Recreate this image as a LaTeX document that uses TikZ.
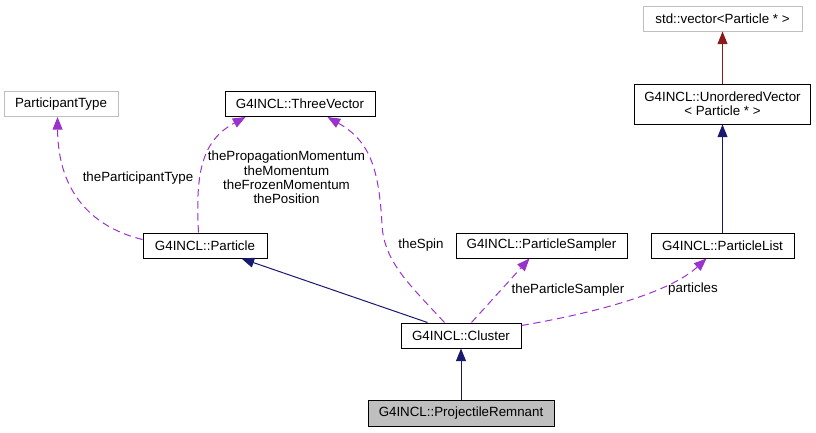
\documentclass[tikz,border=0pt]{standalone}
\usepackage{fontspec}
\setmainfont{Liberation Sans}
\usetikzlibrary{arrows.meta,calc}
\definecolor{navyc}{HTML}{191970}
\definecolor{purp}{HTML}{9A32CD}
\definecolor{dred}{HTML}{8B1A1A}
\definecolor{grayb}{HTML}{BFBFBF}
\tikzset{
  sz/.style 2 args={minimum width=#1*0.75pt, minimum height=#2*0.75pt},
  cls/.style={draw=black, line width=0.75pt, fill=white, inner sep=0pt, align=center,
    font=\fontsize{10}{10.5}\selectfont},
  ext/.style={cls, draw=grayb},
  cur/.style={cls, fill=grayb},
  tipa/.style={-{Triangle[length=9.5pt,width=7.5pt]}},
  inh/.style={draw=navyc, fill=none, line width=0.75pt, tipa},
  tpl/.style={draw=dred, fill=none, line width=0.75pt, tipa},
  use/.style={draw=purp, line width=0.75pt, dash pattern=on 5.5pt off 3.5pt, tipa},
  lbl/.style={inner sep=0pt, align=center, font=\fontsize{10}{10.7}\selectfont}
}
\begin{document}
\begin{tikzpicture}[x=0.75pt, y=-0.75pt]
\path[use as bounding box] (0,0) rectangle (816,432);
% nodes
\node[ext, sz={114}{25}] (PT) at (61,104) {ParticipantType};
\node[cls, sz={150}{25}] (TV) at (300,104) {G4INCL::ThreeVector};
\node[ext, sz={159}{25}] (SV) at (722.5,18.5) {std::vector<Particle * >};
\node[cls, sz={176}{40}] (UV) at (722.5,104) {G4INCL::UnorderedVector\\< Particle * >};
\node[cls, sz={124}{25}] (P) at (205,245.5) {G4INCL::Particle};
\node[cls, sz={171}{25}] (PS) at (541.5,245.5) {G4INCL::ParticleSampler};
\node[cls, sz={143}{25}] (PL) at (722.5,245.5) {G4INCL::ParticleList};
\node[cls, sz={120}{25}] (C) at (461,335.5) {G4INCL::Cluster};
\node[cur, sz={186}{26}] (PR) at (461,413) {G4INCL::ProjectileRemnant};
% inheritance
\draw[inh] (PR.north) -- (C.south);
\draw[inh] ($(C.north west)+(27,0)$) -- ($(P.south west)+(99,0)$);
\draw[inh] (PL.north) -- (UV.south);
\draw[tpl] (UV.north) -- (SV.south);
% usage
\draw[use] ($(P.north west)+(0,7)$) .. controls (95,228) and (58,195) .. ($(PT.south west)+(54,0)$);
\draw[use] ($(P.north west)+(56,0)$) .. controls (195,170) and (203,140) .. ($(TV.south west)+(21,0)$);
\draw[use] ($(C.north west)+(44,0)$) .. controls (410,285) and (384,262) .. (382,225)
  .. controls (379,165) and (368,140) .. ($(TV.south west)+(103,0)$);
\draw[use] ($(C.north west)+(71,0)$) -- ($(PS.south west)+(74,0)$);
\draw[use] ($(C.north east)+(0,3)$) .. controls (600,312) and (670,292) .. ($(PL.south west)+(56,0)$);
% labels
\node[lbl] (l1) at (138,178) {theParticipantType};
\node[lbl] (l2) at (286.5,177.5) {thePropagationMomentum\\theMomentum\\theFrozenMomentum\\thePosition};
\node[lbl] (l3) at (421,245) {theSpin};
\node[lbl] (l4) at (568,290) {theParticleSampler};
\node[lbl] (l5) at (693,289) {particles};
\end{tikzpicture}
\end{document}
